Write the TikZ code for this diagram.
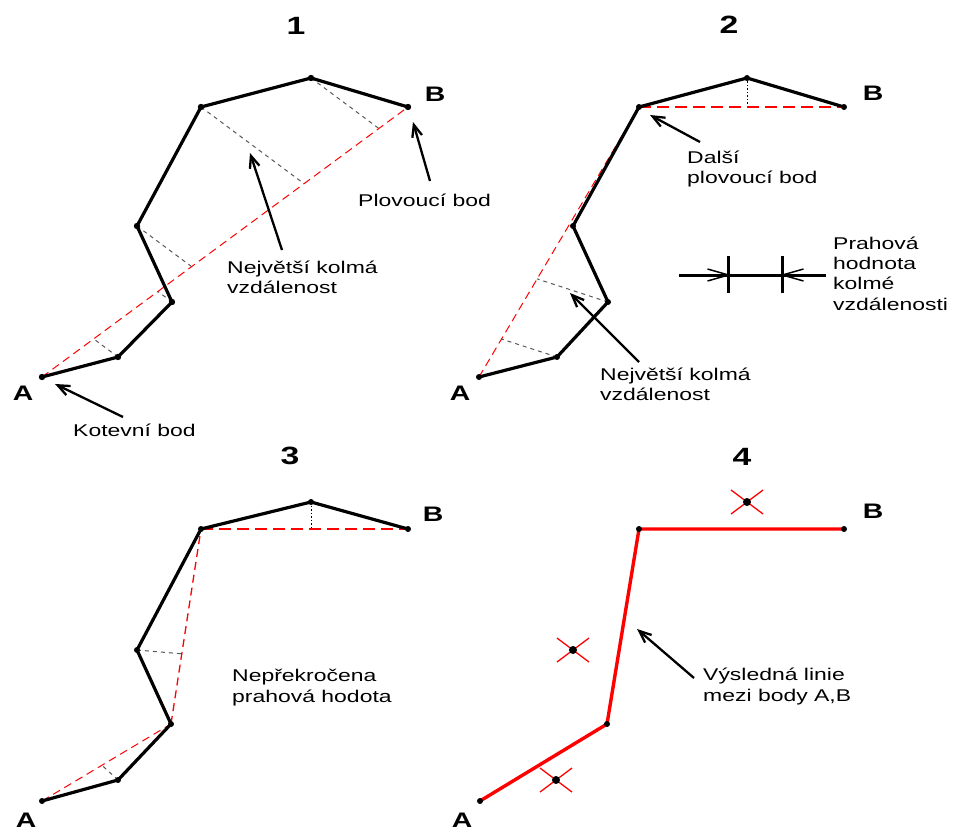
\documentclass[tikz,border=0pt]{standalone}
\usepackage{fontspec}
\newfontfamily\lbl{Liberation Sans}[FakeStretch=1.35]
\usetikzlibrary{arrows.meta}
\begin{document}
\begin{tikzpicture}[x=1pt,y=-1pt,
  poly/.style={line width=3.2pt,black,line join=round,line cap=round},
  redthin/.style={red,line width=1pt,dash pattern=on 8pt off 5pt},
  redmid/.style={red,line width=1.7pt,dash pattern=on 12pt off 6pt},
  perp/.style={black!65,line width=1pt,dash pattern=on 4pt off 4pt},
  vdot/.style={black,line width=1pt,dash pattern=on 1.5pt off 2pt},
  result/.style={red,line width=3.4pt,line join=round},
  ptr/.style={-{Straight Barb[length=12pt,width=10pt]},line width=2.3pt,black},
  thr/.style={line width=3pt,black},
  barb/.style={line width=1.5pt,black,line join=miter},
  txt/.style={font=\lbl\fontsize{17}{20}\selectfont,inner sep=0pt,anchor=base west},
  ttl/.style={font=\lbl\bfseries\fontsize{25}{30}\selectfont,inner sep=0pt,anchor=base},
  ptlab/.style={font=\lbl\bfseries\fontsize{21}{25}\selectfont,inner sep=0pt,anchor=base},
  xmark/.style={red,line width=1.3pt}]
\fill[white] (0,0) rectangle (953,832);
\useasboundingbox (0,0) rectangle (953,832);

% ================= Panel 1 =================
\coordinate (aA) at (42,377);
\coordinate (aP2) at (118,357);
\coordinate (aP3) at (172,302);
\coordinate (aP4) at (137,226);
\coordinate (aP5) at (201,107);
\coordinate (aP6) at (311,78);
\coordinate (aB) at (408,107);
\coordinate (aF2) at (93.7,338.9);
\coordinate (aF3) at (157.9,291.5);
\coordinate (aF4) at (191.6,266.6);
\coordinate (aF5) at (304.1,183.7);
\coordinate (aF6) at (378.9,128.5);
\draw[perp] (aP2) -- (aF2);
\draw[perp] (aP3) -- (aF3);
\draw[perp] (aP4) -- (aF4);
\draw[perp] (aP5) -- (aF5);
\draw[perp] (aP6) -- (aF6);
\draw[redthin] (aA) -- (aB);
\draw[poly] (aA) -- (aP2) -- (aP3) -- (aP4) -- (aP5) -- (aP6) -- (aB);
\foreach \p in {A,P2,P3,P4,P5,P6,B} \fill (a\p) circle (3.2pt);

\node[ttl] (n1) at (296,35) {1};
\node[ptlab] (aLB) at (435,102) {B};
\node[ptlab] (aLA) at (23,400) {A};
\node[txt] (aT1) at (227,273) {Největší kolmá};
\node[txt] (aT2) at (227,293) {vzdálenost};
\node[txt] (aT3) at (358,206) {Plovoucí bod};
\node[txt] (aT4) at (73,436) {Kotevní bod};
\coordinate (aR1s) at (282,250); \coordinate (aR1e) at (250,153);
\coordinate (aR2s) at (430,181); \coordinate (aR2e) at (413,122);
\coordinate (aR3s) at (123,417); \coordinate (aR3e) at (55,384);
\draw[ptr] (aR1s) -- (aR1e);
\draw[ptr] (aR2s) -- (aR2e);
\draw[ptr] (aR3s) -- (aR3e);

% ================= Panel 2 =================
\coordinate (bA) at (479,377);
\coordinate (bP2) at (557,357);
\coordinate (bP3) at (608,302);
\coordinate (bP4) at (573,226);
\coordinate (bP5) at (639,107);
\coordinate (bP6) at (747,78);
\coordinate (bB) at (844,107);
\coordinate (bF2) at (501.5,339.0);
\coordinate (bF3) at (537.1,278.9);
\coordinate (bF6) at (747,107);
\draw[perp] (bP2) -- (bF2);
\draw[perp] (bP3) -- (bF3);
\draw[vdot] (bP6) -- (bF6);
\draw[redthin] (bA) -- (bP5);
\draw[redmid] (bP5) -- (bB);
\draw[poly] (bA) -- (bP2) -- (bP3) -- (bP4) -- (bP5) -- (bP6) -- (bB);
\foreach \p in {A,P2,P3,P4,P5,P6,B} \fill (b\p) circle (3pt);

\node[ttl] (n2) at (729,34) {2};
\node[ptlab] (bLB) at (873,101) {B};
\node[ptlab] (bLA) at (460,400) {A};
\node[txt] (bT1) at (687,164) {Další};
\node[txt] (bT2) at (687,183) {plovoucí bod};
\node[txt] (bT3) at (600,380) {Největší kolmá};
\node[txt] (bT4) at (600,400) {vzdálenost};
\node[txt] (bT5) at (833,249) {Prahová};
\node[txt] (bT6) at (833,269.5) {hodnota};
\node[txt] (bT7) at (833,289.5) {kolmé};
\node[txt] (bT8) at (833,310) {vzdálenosti};
\coordinate (bR1s) at (700,142); \coordinate (bR1e) at (650,115);
\coordinate (bR2s) at (639,362); \coordinate (bR2e) at (570,293);
\draw[ptr] (bR1s) -- (bR1e);
\draw[ptr] (bR2s) -- (bR2e);

% threshold symbol
\coordinate (th1) at (679,275);
\coordinate (th2) at (826,275);
\coordinate (bar1) at (728.5,275);
\coordinate (bar2) at (782.5,275);
\coordinate (bar1t) at (728.5,256); \coordinate (bar1b) at (728.5,293);
\coordinate (bar2t) at (782.5,256); \coordinate (bar2b) at (782.5,293);
\draw[thr] (th1) -- (bar1) -- (bar2) -- (th2);
\draw[barb] ([shift={(-21,-6)}]bar1) -- (bar1) -- ([shift={(-21,6)}]bar1);
\draw[barb] ([shift={(21,-6)}]bar2) -- (bar2) -- ([shift={(21,6)}]bar2);
\draw[line width=3.5pt] (bar1t) -- (bar1b);
\draw[line width=3.5pt] (bar2t) -- (bar2b);

% ================= Panel 3 =================
\coordinate (cA) at (42,801);
\coordinate (cP2) at (118,780);
\coordinate (cP3) at (171,724);
\coordinate (cP4) at (137,650);
\coordinate (cP5) at (201,529);
\coordinate (cP6) at (311,502);
\coordinate (cB) at (408,529);
\coordinate (cF2) at (101.9,765.2);
\coordinate (cF4) at (181.8,653.8);
\coordinate (cF6) at (311,529);
\draw[perp] (cP2) -- (cF2);
\draw[perp] (cP4) -- (cF4);
\draw[vdot] (cP6) -- (cF6);
\draw[redthin] (cA) -- (cP3);
\draw[redthin,line width=1.3pt] (cP3) -- (cP5);
\draw[redmid,line width=1.3pt] (cP5) -- (cB);
\draw[poly] (cA) -- (cP2) -- (cP3) -- (cP4) -- (cP5) -- (cP6) -- (cB);
\foreach \p in {A,P2,P3,P4,P5,P6,B} \fill (c\p) circle (3pt);

\node[ttl] (n3) at (290,464) {3};
\node[ptlab] (cLB) at (433,521) {B};
\node[ptlab] (cLA) at (26,827) {A};
\node[txt] (cT1) at (232,681) {Nepřekročena};
\node[txt] (cT2) at (232,702) {prahová hodota};

% ================= Panel 4 =================
\coordinate (dA) at (480,801);
\coordinate (dP2) at (556,780);
\coordinate (dP3) at (607,724);
\coordinate (dP4) at (573,650);
\coordinate (dP5) at (639,529);
\coordinate (dP6) at (747,502);
\coordinate (dB) at (844,529);
\draw[result] (dA) -- (dP3) -- (dP5) -- (dB);
\foreach \p in {A,P3,P5,B} \fill (d\p) circle (3pt);
\foreach \p in {P2,P4,P6} {
  \draw[xmark] ([shift={(-16,-12)}]d\p) -- ([shift={(16,12)}]d\p);
  \draw[xmark] ([shift={(16,-12)}]d\p) -- ([shift={(-16,12)}]d\p);
  \fill (d\p) circle (4pt);
}
\node[ttl] (n4) at (742,465) {4};
\node[ptlab] (dLB) at (873,518) {B};
\node[ptlab] (dLA) at (462,827) {A};
\node[txt] (dT1) at (703,680) {Výsledná linie};
\node[txt] (dT2) at (703,701) {mezi body A,B};
\coordinate (dR1s) at (694,678); \coordinate (dR1e) at (637,629);
\draw[ptr] (dR1s) -- (dR1e);
\end{tikzpicture}
\end{document}
